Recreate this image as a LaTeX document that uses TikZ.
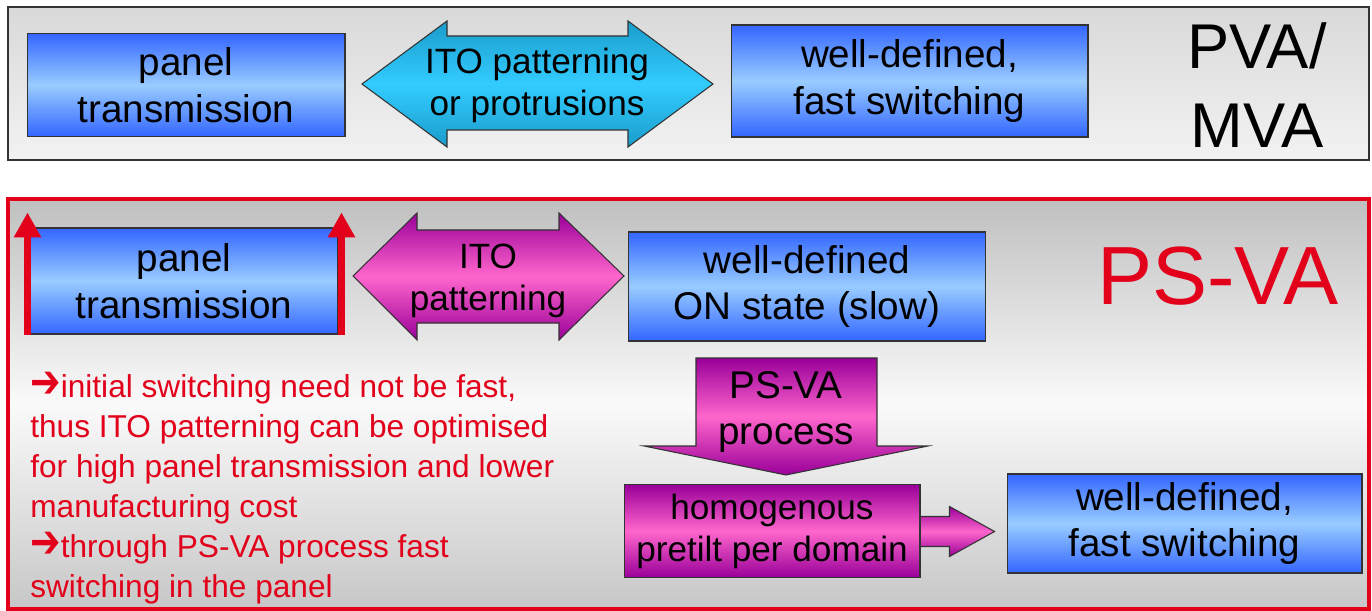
\documentclass[tikz,border=0pt]{standalone}
\usepackage{fontspec}
\setmainfont{Liberation Sans}
\newfontfamily\dejavu{DejaVu Sans}
\usepackage{graphicx}
\usepackage{tikz}
\usetikzlibrary{calc,arrows.meta,positioning}
\definecolor{boxblue}{HTML}{3366FF}
\definecolor{boxlight}{HTML}{99CCFF}
\definecolor{cyandark}{HTML}{1A9CCB}
\definecolor{cyanlight}{HTML}{33CCFF}
\definecolor{magdark}{HTML}{990099}
\definecolor{maglight}{HTML}{FF66CC}
\definecolor{psred}{HTML}{E2001A}
\definecolor{rim}{HTML}{333333}
\newcommand{\bigarr}{\scalebox{1.15}[1.45]{\dejavu ➔}}

\begin{document}
\begin{tikzpicture}[x=0.02cm, y=-0.02cm, line join=miter,
  bluebox/.style={draw=rim, line width=0.6pt, top color=boxblue, bottom color=boxblue,
    middle color=boxlight, align=center, inner sep=0pt,
    font=\fontsize{22}{26.6}\selectfont},
  magbox/.style={draw=rim, line width=0.6pt, top color=magdark, bottom color=magdark,
    middle color=maglight},
  cyanshape/.style={draw=rim, line width=0.6pt, top color=cyandark, bottom color=cyandark,
    middle color=cyanlight},
  arrowtext/.style={align=center, inner sep=0pt, font=\fontsize{20}{24}\selectfont},
  redup/.style={psred, line width=3.5pt, -{Triangle[width=0.52cm,length=0.5cm]}}]
  \useasboundingbox (0,0) rectangle (1372,611);

  % Panels
  \draw[draw=rim, line width=0.7pt, top color=black!15, bottom color=black!5]
    (8,7) rectangle (1369,160);
  \draw[draw=psred, line width=1.8pt, top color=black!25, bottom color=black!22,
    middle color=black!2] (8,199) rectangle (1369,609);

  % PVA/MVA row
  \node[bluebox, minimum width=6.36cm, minimum height=2.06cm] (pvatrans) at (186,85)
    {panel\\transmission};
  \draw[cyanshape] (362,84) -- (447,21) -- (447,36) -- (628,36) -- (628,21) -- (713,84)
    -- (628,147) -- (628,130) -- (447,130) -- (447,147) -- cycle;
  \node[arrowtext] (itotop) at (537,85) {ITO patterning\\or protrusions};
  \node[bluebox, minimum width=7.14cm, minimum height=2.24cm] (pvafast) at (909.5,81)
    {well-defined,\\fast switching};
  \node[align=center, inner sep=0pt, font=\fontsize{36}{45}\selectfont] (pvalabel)
    at (1257,85) {PVA/\\MVA};

  % PS-VA row
  \draw[magbox] (353,276) -- (417,213) -- (417,230) -- (559,230) -- (559,213) -- (624,276)
    -- (559,340) -- (559,323) -- (417,323) -- (417,340) -- cycle;
  \node[arrowtext] (itobot) at (488,281) {ITO\\patterning};
  \node[bluebox, minimum width=6.16cm, minimum height=2.12cm] (psvatrans) at (184,281)
    {panel\\transmission};
  \draw[redup] ($(psvatrans.south west)+(-2,0)$) -- ($(psvatrans.north west)+(-2,-15)$);
  \draw[redup] ($(psvatrans.south east)+(3,0)$) -- ($(psvatrans.north east)+(3,-15)$);
  \node[bluebox, minimum width=7.14cm, minimum height=2.18cm] (psvaon) at (807,286.5)
    {well-defined\\ON state (slow)};
  \node[inner sep=0pt, text=psred, font=\fontsize{47}{50}\selectfont] (psvalabel)
    at (1218,276) {PS-VA};

  % PS-VA process step
  \draw[magbox] (696,358) -- (877,358) -- (877,446) -- (928,446) -- (786,475) -- (644,446)
    -- (696,446) -- cycle;
  \node[align=center, inner sep=0pt, font=\fontsize{22}{26.6}\selectfont] (psproc)
    at (786,412) {PS-VA\\process};
  \node[bluebox, minimum width=7.1cm, minimum height=1.98cm] (psvafast) at (1184.5,523.5)
    {well-defined,\\fast switching};
  \draw[magbox] ($(psvafast.west)+(-87,-7)$) coordinate (tailtop) -- ++(30,0) -- ++(0,-10)
    -- ++(45,25) -- ++(-45,25) -- ++(0,-10) -- ++(-30,0);
  \node[magbox, align=center, inner sep=0pt, minimum width=5.92cm, minimum height=1.86cm,
    font=\fontsize{20}{24}\selectfont] (pretilt) at (772,531)
    {homogenous\\pretilt per domain};

  % Remarks
  \node[anchor=north west, align=left, inner sep=0pt, text=psred,
    font=\fontsize{18}{22.8}\selectfont] (remarks) at (30,372)
    {\bigarr initial switching need not be fast,\\
     thus ITO patterning can be optimised\\
     for high panel transmission and lower\\
     manufacturing cost\\
     \bigarr through PS-VA process fast\\
     switching in the panel};
\end{tikzpicture}
\end{document}
